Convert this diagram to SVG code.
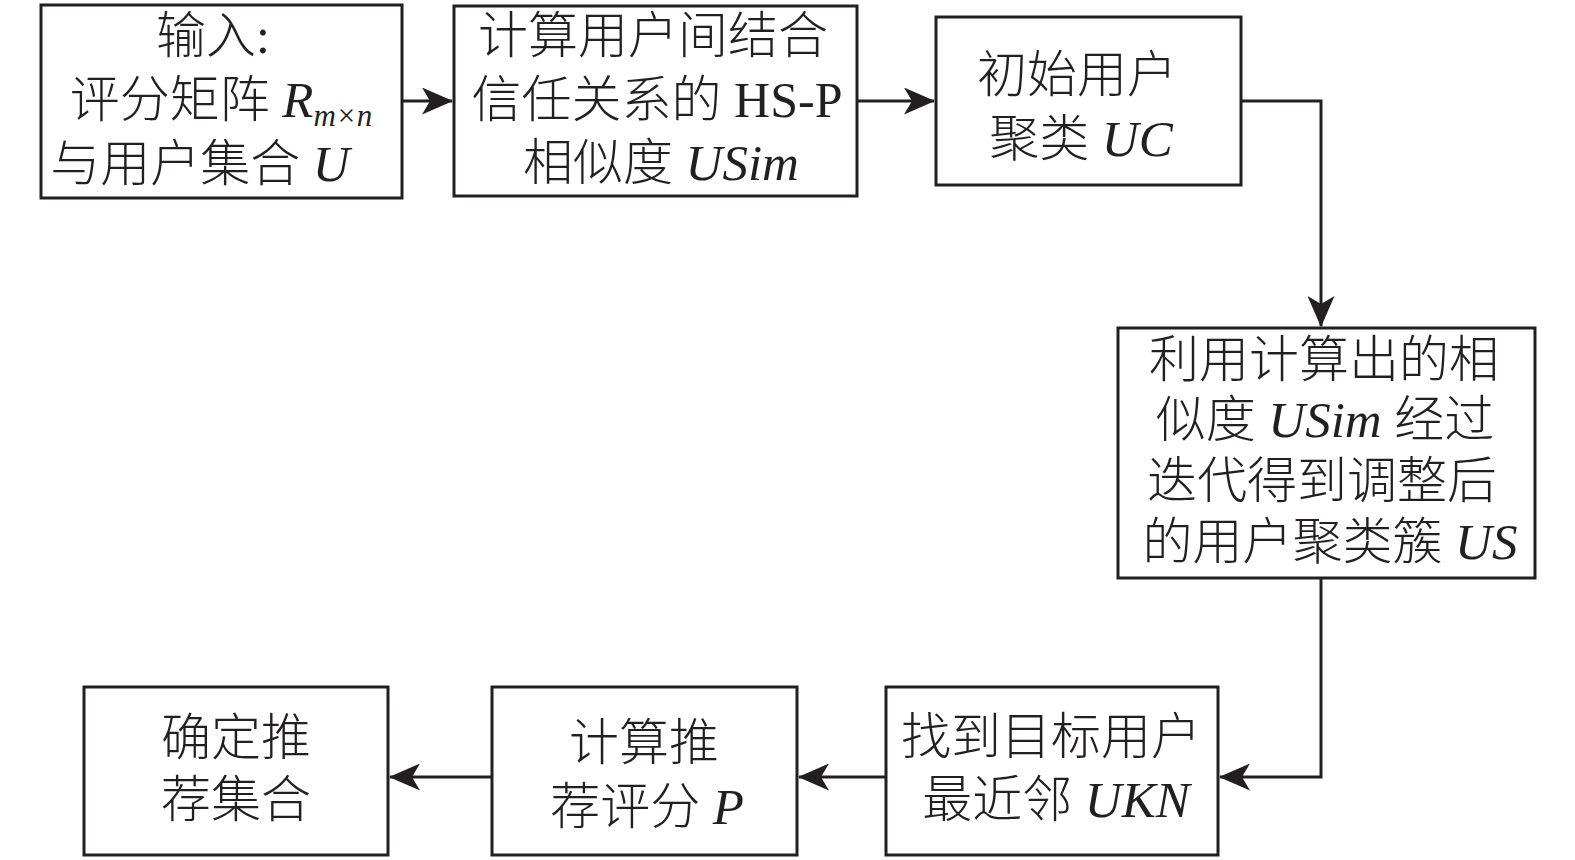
<svg xmlns="http://www.w3.org/2000/svg" width="1575" height="860" viewBox="0 0 1575 860">
<style>
.box{fill:#fff;stroke:#231f20;stroke-width:3}
.t{font-family:'Liberation Serif','Noto Sans CJK SC',serif;font-size:50px;font-weight:300;fill:#231f20;text-anchor:middle}
.i{font-style:italic;font-size:51px;font-weight:400}
.sub{font-style:italic;font-size:31px;font-weight:400}
.r{font-weight:400}
.c{fill:none;stroke:#231f20;stroke-width:3}
</style>
<defs>
<marker id="ah" markerUnits="userSpaceOnUse" markerWidth="31" markerHeight="27" refX="30" refY="13.5" orient="auto" viewBox="0 0 31 27">
<path d="M0,0 L31,13.5 L0,27 L8,13.5 Z" fill="#231f20"/>
</marker>
</defs>
<rect width="1575" height="860" fill="#fff"/>
<g id="connectors">
<path class="c" d="M402,101 H452" marker-end="url(#ah)"/>
<path class="c" d="M857,101 H934" marker-end="url(#ah)"/>
<path class="c" d="M1241,101 H1321 V326" marker-end="url(#ah)"/>
<path class="c" d="M1321,578 V777 H1220" marker-end="url(#ah)"/>
<path class="c" d="M886,777 H799" marker-end="url(#ah)"/>
<path class="c" d="M492,777 H390" marker-end="url(#ah)"/>
</g>
<g id="n1">
<rect class="box" x="41" y="5" width="361" height="193"/>
<text class="t" x="213" y="53">输入<tspan class="r">:</tspan></text>
<text class="t" x="221" y="117">评分矩阵 <tspan class="i">R</tspan><tspan class="sub" dy="9">m×n</tspan></text>
<text class="t" x="200" y="181">与用户集合 <tspan class="i">U</tspan></text>
</g>
<g id="n2">
<rect class="box" x="454" y="6" width="403" height="190"/>
<text class="t" x="653" y="53">计算用户间结合</text>
<text class="t" x="657" y="117">信任关系的 <tspan class="r">HS-P</tspan></text>
<text class="t" x="661" y="180">相似度 <tspan class="i">USim</tspan></text>
</g>
<g id="n3">
<rect class="box" x="936" y="17" width="305" height="168"/>
<text class="t" x="1077" y="92">初始用户</text>
<text class="t" x="1081" y="156">聚类 <tspan class="i">UC</tspan></text>
</g>
<g id="n4">
<rect class="box" x="1118" y="328" width="417" height="250"/>
<text class="t" x="1324" y="377">利用计算出的相</text>
<text class="t" x="1325" y="437">似度 <tspan class="i">USim</tspan> 经过</text>
<text class="t" x="1322" y="498">迭代得到调整后</text>
<text class="t" x="1330" y="559">的用户聚类簇 <tspan class="i">US</tspan></text>
</g>
<g id="n5">
<rect class="box" x="886" y="687" width="332" height="168"/>
<text class="t" x="1051" y="754">找到目标用户</text>
<text class="t" x="1056" y="817">最近邻 <tspan class="i">UKN</tspan></text>
</g>
<g id="n6">
<rect class="box" x="492" y="687" width="305" height="168"/>
<text class="t" x="644" y="760">计算推</text>
<text class="t" x="647" y="824">荐评分 <tspan class="i">P</tspan></text>
</g>
<g id="n7">
<rect class="box" x="84" y="687" width="304" height="168"/>
<text class="t" x="236" y="755">确定推</text>
<text class="t" x="236" y="817">荐集合</text>
</g>
</svg>
